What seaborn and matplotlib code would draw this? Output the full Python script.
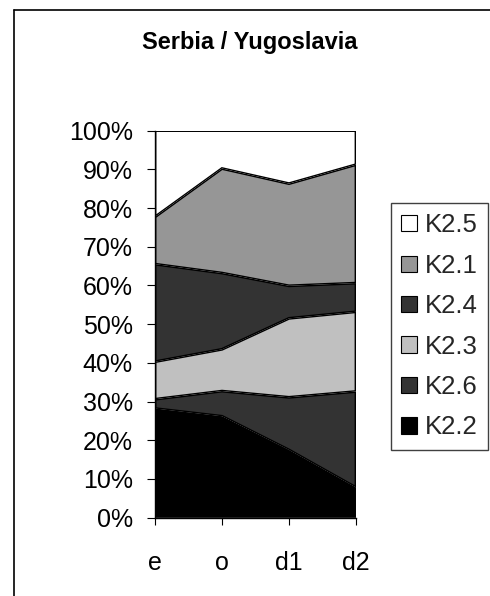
import matplotlib
matplotlib.use("Agg")
import matplotlib.pyplot as plt
from matplotlib.patches import Patch
from matplotlib.lines import Line2D
from matplotlib.ticker import MultipleLocator, PercentFormatter
import pandas as pd
import seaborn as sns
import seaborn.objects as so

# Periods on the x axis
periods = ["e", "o", "d1", "d2"]

# Shares (%) per series, listed from the bottom of the stack upwards
k22 = [28.2, 26.2, 17.5, 7.8]
k26 = [2.4, 6.5, 13.6, 24.8]
k23 = [9.7, 10.8, 20.4, 20.6]
k24 = [25.2, 19.7, 8.4, 7.4]
k21 = [12.2, 27.0, 26.4, 30.6]
k25 = [22.3, 9.8, 13.7, 8.8]

series_names = ["K2.2", "K2.6", "K2.3", "K2.4", "K2.1", "K2.5"]
series_values = [k22, k26, k23, k24, k21, k25]
series_colors = ["#000000", "#333333", "#c0c0c0", "#333333", "#969696", "#ffffff"]
legend_order = ["K2.5", "K2.1", "K2.4", "K2.3", "K2.6", "K2.2"]

title = "Serbia / Yugoslavia"

sns.set_theme(style="white")
plt.rcParams["font.family"] = ["Liberation Sans", "DejaVu Sans"]

color_map = dict(zip(series_names, series_colors))

df = pd.DataFrame(
    [
        {"period": p, "share": v, "series": name}
        for name, vals in zip(series_names, series_values)
        for p, v in zip(periods, vals)
    ]
)

W, H = 490, 596
fig = plt.figure(figsize=(W / 100, H / 100), dpi=100)
fig.patch.set_facecolor("white")

ax_left, ax_right = 155 / W, 356 / W
ax_top, ax_bottom = 1 - 130.6 / H, 1 - 517.7 / H
ax = fig.add_axes([ax_left, ax_bottom, ax_right - ax_left, ax_top - ax_bottom])

(
    so.Plot(df, x="period", y="share", color="series")
    .add(so.Area(alpha=1, edgecolor="black", edgewidth=1.0), so.Stack(), legend=False)
    .scale(color=color_map, x=so.Nominal(order=periods))
    .on(ax)
    .plot()
)

# Axes styling
ax.set_facecolor("white")
ax.grid(False)
ax.set_xlim(0, len(periods) - 1)
ax.set_ylim(0, 100)
ax.set_xlabel("")
ax.set_ylabel("")
ax.set_xticks(range(len(periods)), periods)
ax.yaxis.set_major_locator(MultipleLocator(10))
ax.yaxis.set_major_formatter(PercentFormatter(100, decimals=0))

for side in ("top", "right"):
    ax.spines[side].set_visible(False)
for side in ("left", "bottom"):
    ax.spines[side].set_visible(True)
    ax.spines[side].set_color("black")
    ax.spines[side].set_linewidth(1.0)

ax.tick_params(axis="y", left=True, direction="out", length=6, width=0.8,
               pad=10, labelsize=18, color="black", labelcolor="black")
ax.tick_params(axis="x", bottom=True, direction="out", length=5, width=0.8,
               pad=19, labelsize=18, color="black", labelcolor="black")

# Title
fig.text(250 / W, 1 - 43 / H, title, ha="center", va="center",
         fontsize=17, fontweight="bold", color="black")

# Chart frame (left and top edges)
fig.add_artist(Line2D([14 / W, 14 / W], [0, 1 - 10 / H], transform=fig.transFigure,
                      color="black", linewidth=1.2))
fig.add_artist(Line2D([14 / W, 1], [1 - 10 / H, 1 - 10 / H], transform=fig.transFigure,
                      color="black", linewidth=1.2))

# Legend
handles = [Patch(facecolor=color_map[n], edgecolor="black", linewidth=0.8, label=n)
           for n in legend_order]
leg = fig.legend(handles=handles, loc="upper left",
                 bbox_to_anchor=(391 / W, 1 - 203 / H), bbox_transform=fig.transFigure,
                 frameon=True, fancybox=False, edgecolor="#404040", framealpha=1,
                 fontsize=18.5, handlelength=0.6, handleheight=0.6, handletextpad=0.3,
                 labelspacing=0.64, borderpad=0.4, borderaxespad=0)
leg.get_frame().set_linewidth(1.0)

fig.savefig("out.png", dpi=100, facecolor="white")
